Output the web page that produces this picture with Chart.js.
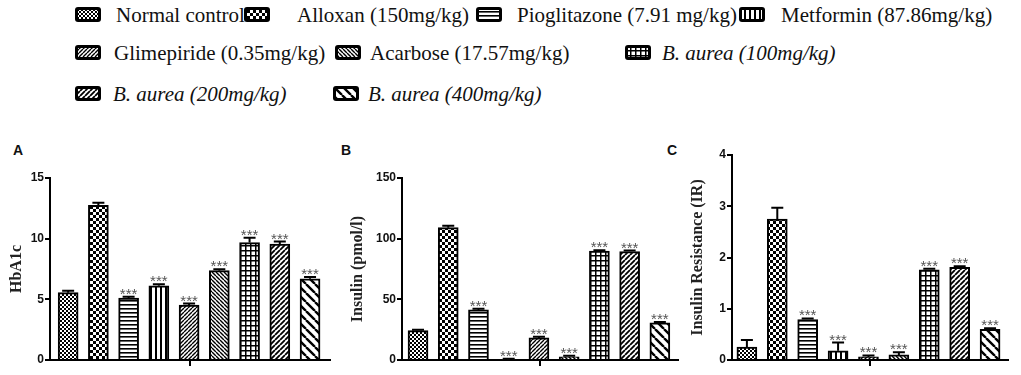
<!DOCTYPE html>
<html>
<head>
<meta charset="utf-8">
<script src="https://cdn.jsdelivr.net/npm/chart.js@4.4.1/dist/chart.umd.min.js"></script>
<style>
body { margin: 0; background: #fff; width: 1021px; height: 375px; position: relative; overflow: hidden; font-family: "Liberation Serif", "Times New Roman", serif; }
.lg { position: absolute; font-size: 21px; line-height: 24px; color: #111; white-space: nowrap; }
.lg.it { font-style: italic; }
.ic { position: absolute; }
.pl { position: absolute; font: bold 14px "Liberation Sans", Arial, sans-serif; color: #111; }
canvas.ch { position: absolute; top: 140px; }
</style>
</head>
<body>
<div id="legend"></div>
<div class="pl" style="left:13px;top:142px">A</div>
<div class="pl" style="left:341px;top:142px">B</div>
<div class="pl" style="left:667px;top:142px">C</div>
<canvas id="chartA" class="ch" width="336" height="235" style="left:0px"></canvas>
<canvas id="chartB" class="ch" width="340" height="235" style="left:340px"></canvas>
<canvas id="chartC" class="ch" width="341" height="235" style="left:680px"></canvas>
<script>
// groups (one bar per group, same order in every panel)
const groups = ['Normal control', 'Alloxan (150mg/kg)', 'Pioglitazone (7.91 mg/kg)', 'Metformin (87.86mg/kg)',
    'Glimepiride (0.35mg/kg)', 'Acarbose (17.57mg/kg)', 'B. aurea (100mg/kg)', 'B. aurea (200mg/kg)', 'B. aurea (400mg/kg)'];
const italicGroups = [false, false, false, false, false, false, true, true, true];
const significant = [false, false, true, true, true, true, true, true, true];

// panel A - HbA1c
const hba1cValues = [5.55, 12.75, 5.1, 6.12, 4.53, 7.36, 9.68, 9.56, 6.7];
const hba1cErrors = [0.15, 0.2, 0.12, 0.12, 0.12, 0.12, 0.4, 0.2, 0.15];
const hba1cTicks = [0, 5, 10, 15];

// panel B - Insulin
const insulinValues = [24.2, 109.1, 41.3, 0.8, 18.2, 2.6, 89.7, 89.4, 30.6];
const insulinErrors = [0.8, 1.5, 0.9, 0.3, 1.0, 0.8, 0.8, 0.8, 0.8];
const insulinTicks = [0, 50, 100, 150];

// panel C - Insulin resistance
const irValues = [0.25, 2.75, 0.79, 0.18, 0.06, 0.1, 1.76, 1.81, 0.6];
const irErrors = [0.14, 0.22, 0.02, 0.16, 0.03, 0.05, 0.02, 0.02, 0.02];
const irTicks = [0, 1, 2, 3, 4];

const patternNames = ['fineCheck', 'check', 'hlines', 'vlines', 'fwd', 'back', 'grid', 'fwd2', 'back2'];

function makeTile(name) {
    var size = { fineCheck: 4, check: 6, hlines: 4, vlines: 5, fwd: 4, back: 4, grid: 5, fwd2: 5, back2: 9 }[name];
    var tile = document.createElement('canvas');
    tile.width = size;
    tile.height = size;
    var c = tile.getContext('2d');
    c.fillStyle = '#fff';
    c.fillRect(0, 0, size, size);
    c.fillStyle = '#000';
    c.strokeStyle = '#000';

    if (name == 'fineCheck' || name == 'check') {
        var h = size / 2;
        c.fillRect(0, 0, h, h);
        c.fillRect(h, h, h, h);
    } else if (name == 'hlines') {
        c.fillRect(0, 0, size, 1.6);
    } else if (name == 'vlines') {
        c.fillRect(0, 0, 2, size);
    } else if (name == 'grid') {
        c.fillRect(0, 0, size, 1.5);
        c.fillRect(0, 0, 1.5, size);
    } else {
        //Diagonal hatching.
        c.lineWidth = { fwd: 1.4, back: 1.4, fwd2: 1.8, back2: 2.4 }[name];
        c.beginPath();
        for (let k = -1; k <= 1; k++) {
            if (name == 'fwd' || name == 'fwd2') {
                c.moveTo(k * size, size);
                c.lineTo(k * size + size, 0);
            } else {
                c.moveTo(k * size, 0);
                c.lineTo(k * size + size, size);
            }
        }
        c.stroke();
    }
    return tile;
}

var patternCtx = document.createElement('canvas').getContext('2d');
const patterns = patternNames.map(function (name) {
    return patternCtx.createPattern(makeTile(name), 'repeat');
});

// legend layout: [row center y, icon x, text x]
const legendLayout = [
    [15, 75, 116], [15, 244, 297], [15, 476, 517], [15, 739, 781],
    [53, 75, 114], [53, 335, 370], [53, 625, 662],
    [94, 75, 113], [94, 333, 368]
];

function buildLegend() {
    var legendDiv = document.getElementById('legend');
    for (let i = 0; i < groups.length; i++) {
        var pos = legendLayout[i];

        var icon = document.createElement('canvas');
        icon.className = 'ic';
        icon.width = 26;
        icon.height = 15;
        icon.style.left = pos[1] + 'px';
        icon.style.top = (pos[0] - 8) + 'px';
        var c = icon.getContext('2d');
        c.fillStyle = '#000';
        c.beginPath();
        c.roundRect(0, 0, 26, 15, 3);
        c.fill();
        c.fillStyle = patterns[i];
        c.fillRect(3, 3, 20, 9);
        legendDiv.appendChild(icon);

        var label = document.createElement('div');
        label.className = italicGroups[i] ? 'lg it' : 'lg';
        label.style.left = pos[2] + 'px';
        label.style.top = (pos[0] - 12) + 'px';
        label.textContent = groups[i];
        legendDiv.appendChild(label);
    }
}

//Draws the error caps, the *** marks and the small middle tick on the x axis.
function errorBarPlugin(values, errors) {
    return {
        id: 'errorBars',
        afterDatasetsDraw: function (chart) {
            var ctx = chart.ctx;
            var yScale = chart.scales.y;
            var area = chart.chartArea;
            var meta = chart.getDatasetMeta(0);
            ctx.save();
            ctx.strokeStyle = '#000';
            ctx.lineWidth = 2;
            meta.data.forEach(function (bar, i) {
                var top = yScale.getPixelForValue(values[i]);
                var errTop = yScale.getPixelForValue(values[i] + errors[i]);
                ctx.beginPath();
                ctx.moveTo(bar.x, top);
                ctx.lineTo(bar.x, errTop);
                ctx.moveTo(bar.x - 6, errTop);
                ctx.lineTo(bar.x + 6, errTop);
                ctx.stroke();

                if (significant[i]) {
                    ctx.fillStyle = '#555';
                    ctx.font = '15px "Liberation Sans", Arial, sans-serif';
                    ctx.textAlign = 'center';
                    ctx.textBaseline = 'alphabetic';
                    ctx.fillText('***', bar.x, errTop + 2);
                }
            });
            var mid = (area.left + area.right) / 2;
            ctx.beginPath();
            ctx.moveTo(mid, area.bottom);
            ctx.lineTo(mid, area.bottom + 6);
            ctx.stroke();
            ctx.restore();
        }
    };
}

function GeneratePanel(canvasId, values, errors, tickValues, title, layout) {
    var control = document.getElementById(canvasId);

    var points = [];
    for (let i = 0; i < values.length; i++) {
        points.push({ x: i, y: values[i] });
    }

    return new Chart(control, {
        type: 'bar',
        data: {
            datasets: [{
                data: points,
                backgroundColor: patterns,
                borderColor: '#000',
                borderWidth: 2,
                barThickness: 20
            }]
        },
        options: {
            animation: false,
            responsive: false,
            devicePixelRatio: 1,
            layout: {
                padding: { left: 0, right: layout.right, top: layout.top, bottom: 0 }
            },
            scales: {
                x: {
                    type: 'linear',
                    offset: false,
                    min: layout.xMin,
                    max: layout.xMax,
                    ticks: { display: false },
                    grid: { display: false, offset: false },
                    border: { display: true, color: '#000', width: 2 },
                    afterFit: function (scale) { scale.height = 15; }
                },
                y: {
                    min: tickValues[0],
                    max: tickValues[tickValues.length - 1],
                    afterBuildTicks: function (scale) {
                        scale.ticks = tickValues.map(function (v) { return { value: v }; });
                    },
                    grid: {
                        display: true,
                        drawOnChartArea: false,
                        drawTicks: true,
                        tickLength: 5,
                        color: '#000',
                        lineWidth: 2
                    },
                    border: { display: true, color: '#000', width: 2 },
                    ticks: {
                        color: '#111',
                        padding: 1,
                        font: { family: '"Liberation Sans", Arial, sans-serif', size: 12, weight: 'bold' }
                    },
                    title: {
                        display: true,
                        text: title,
                        color: '#222',
                        padding: { top: layout.titlePad, bottom: 0 },
                        font: { family: '"Liberation Serif", "Times New Roman", serif', size: 16, weight: 'bold' }
                    },
                    afterFit: function (scale) { scale.width = layout.axisWidth; }
                }
            },
            plugins: {
                legend: { display: false },
                tooltip: { enabled: false }
            }
        },
        plugins: [errorBarPlugin(values, errors)]
    });
}

buildLegend();

GeneratePanel('chartA', hba1cValues, hba1cErrors, hba1cTicks, 'HbA1c',
    { axisWidth: 50, right: 6, top: 38, titlePad: 7, xMin: -0.6, xMax: 8.66 });

GeneratePanel('chartB', insulinValues, insulinErrors, insulinTicks, 'Insulin (pmol/l)',
    { axisWidth: 62, right: 2, top: 38, titlePad: 8, xMin: -0.53, xMax: 8.6 });

GeneratePanel('chartC', irValues, irErrors, irTicks, 'Insulin Resistance (IR)',
    { axisWidth: 52, right: 13, top: 15, titlePad: 8, xMin: -0.49, xMax: 8.59 });
</script>
</body>
</html>
